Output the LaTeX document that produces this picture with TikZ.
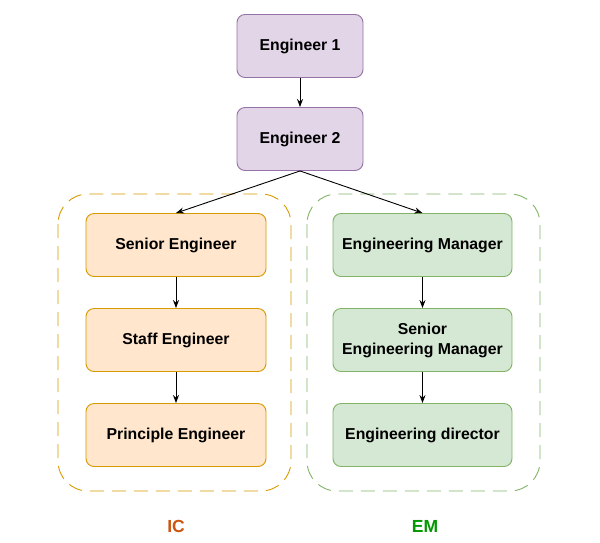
\documentclass[tikz,border=0pt]{standalone}
\usepackage{fontspec}
\setmainfont{Liberation Sans}
\usetikzlibrary{arrows.meta}
\definecolor{pfill}{HTML}{E1D5E7}\definecolor{pdraw}{HTML}{9673A6}
\definecolor{ofill}{HTML}{FFE6CC}\definecolor{odraw}{HTML}{D79B00}
\definecolor{gfill}{HTML}{D5E8D4}\definecolor{gdraw}{HTML}{82B366}
\definecolor{iclab}{HTML}{CC5511}\definecolor{emlab}{HTML}{009900}
\begin{document}
\begin{tikzpicture}[x=1pt,y=-1pt,
  box/.style={rounded corners=8pt,line width=0.9pt,align=center,font=\bfseries\fontsize{15.8}{20}\selectfont,inner sep=0pt},
  pbox/.style={box,draw=pdraw,fill=pfill,minimum width=126pt,minimum height=63pt},
  obox/.style={box,draw=odraw,fill=ofill,minimum width=180pt,minimum height=63pt},
  gbox/.style={box,draw=gdraw,fill=gfill,minimum width=179pt,minimum height=63pt},
  grp/.style={dashed,dash pattern=on 14pt off 8pt,rounded corners=30pt,line width=0.9pt},
  arr/.style={-{Stealth[length=8pt,width=6pt]},line width=0.9pt},
  lab/.style={font=\bfseries\fontsize{17.5}{19}\selectfont}]
\useasboundingbox (0,0) rectangle (600,542);
\fill[white] (0,0) rectangle (600,542);
\draw[grp,draw=odraw] (58,194) rectangle (291,491);
\draw[grp,draw=gdraw] (307,194) rectangle (540,491);
\node[pbox] (e1) at (300,46) {Engineer 1};
\node[pbox] (e2) at (300,139) {Engineer 2};
\node[obox] (se) at (176,245) {Senior Engineer};
\node[obox] (st) at (176,340) {Staff Engineer};
\node[obox] (pe) at (176,435) {Principle Engineer};
\node[gbox] (em) at (422.5,245) {Engineering Manager};
\node[gbox] (sem) at (422.5,340) {Senior\\Engineering Manager};
\node[gbox] (ed) at (422.5,435) {Engineering director};
\node[lab,text=iclab] (ic) at (176,526) {IC};
\node[lab,text=emlab] (eml) at (425,526) {EM};
\draw[arr] (e1) -- (e2);
\draw[arr] (e2.south) -- (se.north);
\draw[arr] (e2.south) -- (em.north);
\draw[arr] (se) -- (st);
\draw[arr] (st) -- (pe);
\draw[arr] (em) -- (sem);
\draw[arr] (sem) -- (ed);
\end{tikzpicture}
\end{document}
